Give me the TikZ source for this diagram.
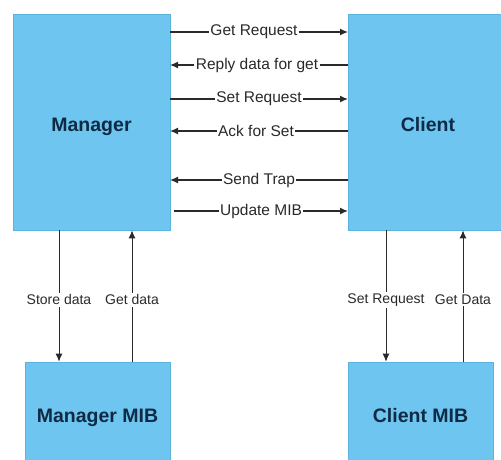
\documentclass[tikz,border=0pt]{standalone}
\usepackage{fontspec}
\setmainfont{Liberation Sans}
\usetikzlibrary{arrows.meta}
\definecolor{boxblue}{HTML}{6EC6F0}
\definecolor{boxedge}{HTML}{5BB3DE}
\definecolor{navy}{HTML}{0E2A44}
\definecolor{linegray}{HTML}{2A2A2A}
\begin{document}
\begin{tikzpicture}[x=1pt,y=-1pt,
  box/.style={draw=boxedge,fill=boxblue,line width=0.6pt,inner sep=0pt,font=\fontsize{19.5}{21}\selectfont\bfseries,text=navy,text height=14pt,text depth=4pt},
  bigbox/.style={box,text height=22pt},
  conn/.style={draw=linegray,line width=1.3pt,-{Latex[length=8pt,width=7pt]}},
  vconn/.style={draw=linegray,line width=1pt,-{Latex[length=8pt,width=7pt]}},
  lbl/.style={fill=white,inner sep=1.5pt,font=\fontsize{15.5}{17}\selectfont,text=linegray},
  vlbl/.style={fill=white,inner sep=1.5pt,font=\fontsize{14}{16}\selectfont,text=linegray}]
\useasboundingbox (0,0) rectangle (501,459);
\fill[white] (0,0) rectangle (501,459);
% boxes
\node[bigbox,minimum width=157,minimum height=216] (mgr) at (91.5,122) {Manager};
\node[bigbox,minimum width=160,minimum height=216] (cli) at (428,122) {Client};
\node[box,minimum width=145,minimum height=110] (mmib) at (97.5,417) {Manager MIB};
\node[box,minimum width=145,minimum height=110] (cmib) at (420.5,417) {Client MIB};
% horizontal arrows
\coordinate (mL1) at (170,32);  \coordinate (cR1) at (348,32);
\coordinate (mL2) at (170,65);  \coordinate (cR2) at (348,65);
\coordinate (mL3) at (170,99);  \coordinate (cR3) at (348,99);
\coordinate (mL4) at (170,131); \coordinate (cR4) at (348,131);
\coordinate (mL5) at (170,180); \coordinate (cR5) at (348,180);
\coordinate (mL6) at (174,211); \coordinate (cR6) at (348,211);
\draw[conn] (mL1) -- node[lbl,xshift=-5pt] (t1) {Get Request} (cR1);
\draw[conn] (cR2) -- node[lbl,xshift=-2pt] (t2) {Reply data for get} (mL2);
\draw[conn] (mL3) -- node[lbl] (t3) {Set Request} (cR3);
\draw[conn] (cR4) -- node[lbl,xshift=-3pt] (t4) {Ack for Set} (mL4);
\draw[conn] (cR5) -- node[lbl] (t5) {Send Trap} (mL5);
\draw[conn] (mL6) -- node[lbl] (t6) {Update MIB} (cR6);
% vertical arrows
\coordinate (v1) at (59,0);
\coordinate (v2) at (132,0);
\coordinate (v3) at (386,0);
\coordinate (v4) at (463,0);
\draw[vconn] (v1 |- mgr.south) -- node[vlbl,pos=0.53] (s1) {Store data} (v1 |- mmib.north);
\draw[vconn] (v2 |- mmib.north) -- node[vlbl,pos=0.47] (s2) {Get data} (v2 |- mgr.south);
\draw[vconn] (v3 |- cli.south) -- node[vlbl,pos=0.53] (s3) {Set Request} (v3 |- cmib.north);
\draw[vconn] (v4 |- cmib.north) -- node[vlbl,pos=0.47] (s4) {Get Data} (v4 |- cli.south);
\end{tikzpicture}
\end{document}
